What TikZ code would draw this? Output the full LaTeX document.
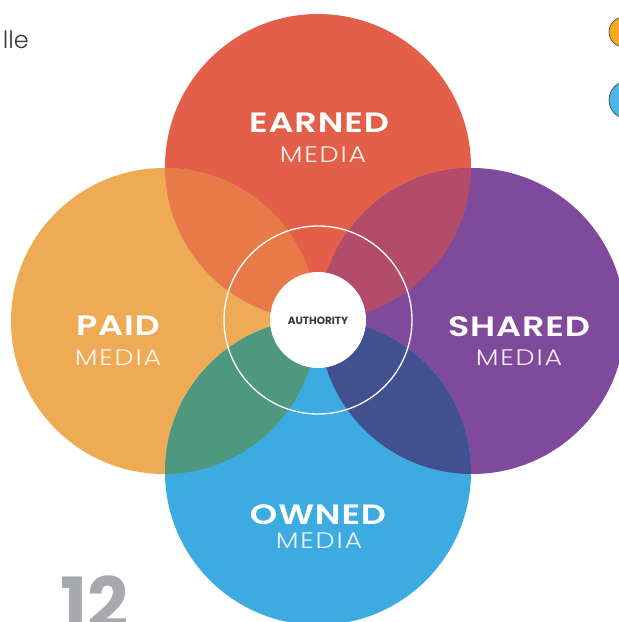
\documentclass[tikz,border=0pt]{standalone}
\usepackage{fontspec}
\setmainfont{Poppins}
\newfontfamily\lightfont{Poppins Light}
\newfontfamily\titlefont{Poppins SemiBold}[FakeStretch=1.25, LetterSpace=3]
\newfontfamily\subfont{Poppins Light}[FakeStretch=1.2, LetterSpace=8]
\newfontfamily\heavyfont{Poppins Bold}
\definecolor{earnedc}{HTML}{E35F49}
\definecolor{paidc}{HTML}{EFAA55}
\definecolor{sharedc}{HTML}{7F4A9B}
\definecolor{ownedc}{HTML}{3CABE2}
\definecolor{epc}{HTML}{E87A4A}
\definecolor{esc}{HTML}{B34C6A}
\definecolor{poc}{HTML}{4F9880}
\definecolor{soc}{HTML}{42508F}
\definecolor{dotorange}{HTML}{F7A823}
\definecolor{dotblue}{HTML}{4DB6E8}
\definecolor{pagegrey}{HTML}{A7A9AC}
\definecolor{textdark}{HTML}{3A3A3A}
\tikzset{
  title/.style={text=white, font=\titlefont\fontsize{28}{28}\selectfont, inner sep=0pt, anchor=base},
  sub/.style={text=white, opacity=0.9, font=\subfont\fontsize{22.5}{22.5}\selectfont, inner sep=0pt, anchor=base},
  legenddot/.style={draw=textdark, line width=0.6pt},
}
\begin{document}
\begin{tikzpicture}[x=1pt,y=-1pt]
\useasboundingbox (0,0) rectangle (619,622);
\def\rad{153}
% the four media circles
\coordinate (ce) at (318,167);
\coordinate (cp) at (164,321);
\coordinate (cs) at (472,321);
\coordinate (co) at (318,472);
\fill[earnedc] (ce) circle (\rad);
\fill[paidc] (cp) circle (\rad);
\fill[sharedc] (cs) circle (\rad);
\fill[ownedc] (co) circle (\rad);
% overlaps
\begin{scope}
  \clip (ce) circle (\rad);
  \fill[epc] (cp) circle (\rad);
  \fill[esc] (cs) circle (\rad);
\end{scope}
\begin{scope}
  \clip (co) circle (\rad);
  \fill[poc] (cp) circle (\rad);
  \fill[soc] (cs) circle (\rad);
\end{scope}
% centre: ring and authority disc
\draw[white, line width=1.3pt] (318,320) circle (94);
\node[circle, fill=white, minimum size=96pt, inner sep=0pt] (auth) at (318,320) {};
\node[text=textdark, font=\heavyfont\fontsize{10.5}{10.5}\selectfont, inner sep=0pt] (authtext) at (318,321) {AUTHORITY};
% labels
\node[title] (earned) at (319,132) {EARNED};
\node[sub] (earnedsub) at (323,162) {MEDIA};
\node[title] (paid) at (118,335) {PAID};
\node[sub] (paidsub) at (118,365) {MEDIA};
\node[title] (shared) at (519,336) {SHARED};
\node[sub] (sharedsub) at (519,365) {MEDIA};
\node[title] (owned) at (318,524) {OWNED};
\node[sub] (ownedsub) at (319,548) {MEDIA};
% page furniture
\node[text=textdark, font=\lightfont\fontsize{24}{24}\selectfont, inner sep=0pt, anchor=base east] (lle) at (29,48) {lle};
\fill[dotorange, legenddot] (624,32) circle (15);
\fill[dotblue, legenddot] (628,100) circle (19);
\node[text=pagegrey, font=\heavyfont\fontsize{72}{72}\selectfont, inner sep=0pt, anchor=base west] (pagenum) at (60,629) {12};
\end{tikzpicture}
\end{document}
